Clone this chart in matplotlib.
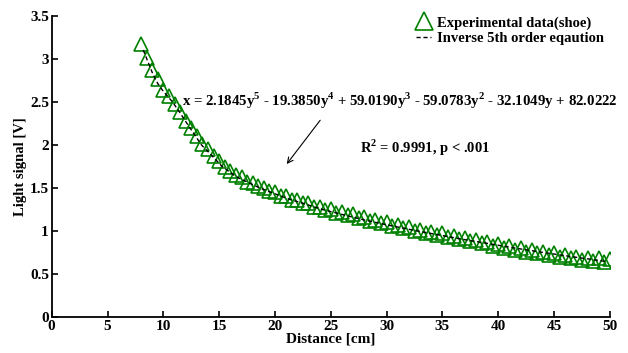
import numpy as np
import matplotlib.pyplot as plt

plt.rcParams['font.family'] = ['Liberation Serif', 'DejaVu Serif']
plt.rcParams['font.weight'] = 'bold'
plt.rcParams['mathtext.fontset'] = 'custom'
plt.rcParams['mathtext.rm'] = 'Liberation Serif:bold'
plt.rcParams['mathtext.bf'] = 'Liberation Serif:bold'

# --- data ---
distance = np.arange(8.0, 50.01, 0.5)
signal = [3.17, 3.01, 2.87, 2.76, 2.64, 2.56, 2.47, 2.38, 2.28, 2.19,
          2.10, 2.01, 1.95, 1.87, 1.81, 1.74, 1.70, 1.65, 1.62, 1.57,
          1.56, 1.52, 1.50, 1.46, 1.45, 1.41, 1.40, 1.36, 1.36, 1.32,
          1.32, 1.28, 1.28, 1.24, 1.25, 1.21, 1.22, 1.18, 1.19, 1.15,
          1.16, 1.12, 1.13, 1.09, 1.10, 1.06, 1.07, 1.03, 1.04, 1.00,
          1.01, 0.98, 0.99, 0.95, 0.97, 0.93, 0.94, 0.90, 0.92, 0.88,
          0.89, 0.86, 0.87, 0.83, 0.85, 0.80, 0.82, 0.78, 0.80, 0.76,
          0.78, 0.74, 0.76, 0.72, 0.74, 0.70, 0.72, 0.68, 0.70, 0.66,
          0.69, 0.65, 0.68, 0.64, 0.67]

# points along the fitted inverse 5th order curve
fit_x = [8.2, 8.6, 9.0, 9.5, 10.0, 10.8, 11.5, 12.1, 13.4, 14.0, 15.25,
         16.5, 18.6, 20.0, 21.1, 22.5, 24.2, 26.0, 28.05, 30.0, 32.7,
         35.0, 36.9, 39.0, 41.5, 44.0, 46.6, 48.0, 49.6]
fit_y = [3.10, 2.97, 2.84, 2.71, 2.62, 2.50, 2.37, 2.25, 2.00, 1.92, 1.75,
         1.63, 1.50, 1.43, 1.375, 1.32, 1.25, 1.19, 1.125, 1.07, 1.00,
         0.945, 0.90, 0.855, 0.80, 0.75, 0.70, 0.675, 0.645]

equation = (r'x = 2.1845y$^\mathbf{5}$ - 19.3850y$^\mathbf{4}$ + 59.0190y$^\mathbf{3}$ '
            r'- 59.0783y$^\mathbf{2}$ - 32.1049y + 82.0222')
stats = r'R$^\mathbf{2}$ = 0.9991, p < .001'

fig = plt.figure(figsize=(6.28, 3.53), dpi=100)
ax = fig.add_axes([0.0823, 0.102, 0.889, 0.854])

ax.plot(distance, signal, linestyle='none', marker='^', markersize=10,
        markerfacecolor='none', markeredgecolor='#008000', markeredgewidth=1.2,
        label='Experimental data(shoe)')
ax.plot(fit_x, fit_y, color='black', linestyle=(0, (3, 2)), linewidth=1.0,
        label='Inverse 5th order eqaution')

ax.text(11.7, 2.506, equation, fontsize=10.75, fontweight='bold', va='center', ha='left')
ax.text(27.6, 1.96, stats, fontsize=10.5, fontweight='bold', va='center', ha='left')
ax.annotate('', xy=(20.9, 1.75), xytext=(24.2, 2.31),
            arrowprops=dict(arrowstyle='->', color='black', lw=0.8))

ax.set_xlim(0, 50)
ax.set_ylim(0, 3.5)
ax.set_xticks(np.arange(0, 51, 5))
ax.set_yticks(np.arange(0, 3.51, 0.5))
ax.set_yticklabels(['0', '0.5', '1', '1.5', '2', '2.5', '3', '3.5'])
ax.tick_params(direction='in', length=4, width=1.2, labelsize=11, pad=2)
for lbl in ax.get_xticklabels() + ax.get_yticklabels():
    lbl.set_fontweight('bold')
ax.spines['top'].set_visible(False)
ax.spines['right'].set_visible(False)
ax.spines['left'].set_linewidth(1.3)
ax.spines['bottom'].set_linewidth(1.3)

ax.set_xlabel('Distance [cm]', fontsize=11, fontweight='bold', labelpad=0)
ax.set_ylabel('Light signal [V]', fontsize=10.5, fontweight='bold', labelpad=2)

ax.legend(loc='upper right', bbox_to_anchor=(614 / 628, 1 - 6 / 353),
          bbox_transform=fig.transFigure, frameon=False, fontsize=10.5,
          handlelength=1.0, handletextpad=0.4, labelspacing=0.15,
          markerscale=1.25, borderpad=0.2)

fig.savefig('out.png', dpi=100)
